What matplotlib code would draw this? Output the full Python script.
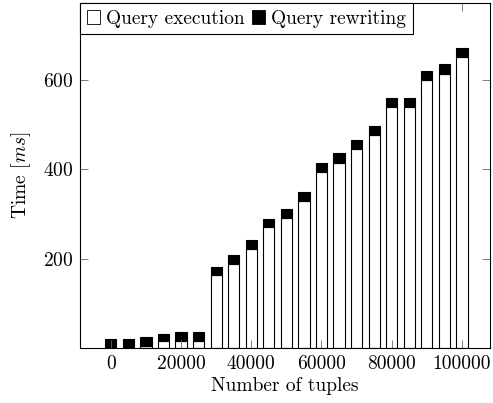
import matplotlib.pyplot as plt
from matplotlib.patches import Patch

plt.rcParams['font.family'] = 'serif'
plt.rcParams['font.serif'] = ['cmr10', 'DejaVu Serif']
plt.rcParams['mathtext.fontset'] = 'cm'
plt.rcParams['axes.formatter.use_mathtext'] = True

# number of tuples and times in ms
tuples = [0, 5000, 10000, 15000, 20000, 25000, 30000, 35000, 40000, 45000, 50000,
          55000, 60000, 65000, 70000, 75000, 80000, 85000, 90000, 95000, 100000]
execution = [1, 1, 5, 16, 15, 17, 164, 189, 221, 270, 292,
             330, 394, 415, 446, 477, 539, 540, 599, 614, 651]
rewriting = [19, 19, 21, 16, 22, 19, 18, 20, 20, 19, 19,
             20, 21, 21, 20, 20, 21, 19, 21, 21, 20]

fs = 14
fig = plt.figure(figsize=(4.93, 4.03), dpi=100)
ax = fig.add_axes([0.162, 0.136, 0.832, 0.857])

w = 3200
ax.bar(tuples, execution, width=w, color="white", edgecolor="black", lw=0.8)
ax.bar(tuples, rewriting, width=w, bottom=execution, color="black",
       edgecolor="black", lw=0.8)

ax.set_xlim(-8800, 108000)
ax.set_ylim(0, 772)
ax.set_xticks([0, 20000, 40000, 60000, 80000, 100000])
ax.set_xticklabels(["0", "20000", "40000", "60000", "80000", "100000"])
ax.set_yticks([200, 400, 600])
ax.tick_params(direction="in", top=True, right=True, labelsize=fs,
               length=6, width=0.6, color="#666666", pad=5)
for s in ax.spines.values():
    s.set_linewidth(0.8)
ax.set_xlabel("Number of tuples", fontsize=fs, labelpad=3)
ax.set_ylabel("Time [$ms$]", fontsize=fs, labelpad=7)

handles = [Patch(facecolor="white", edgecolor="black", lw=0.6, label="Query execution"),
           Patch(facecolor="black", edgecolor="black", lw=0.6, label="Query rewriting")]
leg = ax.legend(handles=handles, loc="upper left", bbox_to_anchor=(0, 1),
                borderaxespad=0, ncol=2, fancybox=False, framealpha=1,
                edgecolor="black", handlelength=0.7, handleheight=0.7,
                handletextpad=0.3, columnspacing=0.35, fontsize=fs,
                borderpad=0.35)
leg.get_frame().set_linewidth(0.8)

fig.savefig("out.png", dpi=100)
